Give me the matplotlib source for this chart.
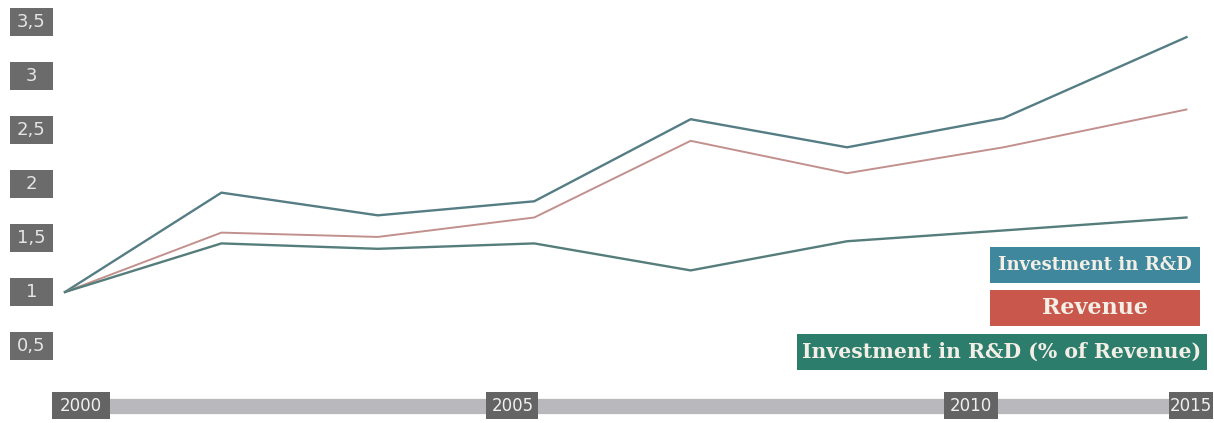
import matplotlib.pyplot as plt
from matplotlib.patches import Rectangle

# index values (2000 = 1)
periods = [0, 1, 2, 3, 4, 5, 6, 7.17]
rd_invest = [1.00, 1.92, 1.71, 1.84, 2.60, 2.34, 2.61, 3.36]
revenue = [1.00, 1.55, 1.51, 1.69, 2.40, 2.10, 2.34, 2.69]
rd_share = [1.00, 1.45, 1.40, 1.45, 1.20, 1.47, 1.57, 1.69]

y_ticks = [0.5, 1, 1.5, 2, 2.5, 3, 3.5]
year_labels = ["2000", "2005", "2010", "2015"]
year_pos = [0.10, 2.86, 5.79, 7.20]

legend_labels = ["Investment in R&D", "Revenue", "Investment in R&D (% of Revenue)"]
legend_colors = ["#3f879c", "#c9574c", "#2c7d6c"]

W, H = 1214, 423
fig = plt.figure(figsize=(W / 100, H / 100), dpi=100)
ax = fig.add_axes([0, 0, 1, 1])
ax.axis("off")
ax.set_xlim(-0.4156, 7.346)
ax.set_ylim(-0.213, 3.704)

ax.plot(periods, rd_invest, color="#557d84", lw=1.7, solid_joinstyle="miter")
ax.plot(periods, revenue, color="#c2908d", lw=1.4, solid_joinstyle="miter")
ax.plot(periods, rd_share, color="#557d7b", lw=1.7, solid_joinstyle="miter")

# pixel size -> data units
px_x = (7.346 + 0.4156) / W
px_y = (3.704 + 0.213) / H

# y labels in fixed-size grey boxes
yt = ax.get_yaxis_transform()
for v in y_ticks:
    ax.add_patch(Rectangle((10 / W, v - 14 * px_y), 43 / W, 28 * px_y,
                           transform=yt, fc="#6b6b6b", ec="none"))
    ax.text(31.5 / W, v, ("%g" % v).replace(".", ","), transform=yt,
            ha="center", va="center", fontsize=13, color="#e6e6e6")

# x axis bar with year tags
xt = ax.get_xaxis_transform()
bar_y = 1 - 405.5 / H
ax.plot([year_pos[0], year_pos[-1]], [bar_y] * 2, color="#b9b9bd", lw=11,
        solid_capstyle="butt", transform=xt, zorder=1)
tag_w = [58, 52, 54, 44]
for pos, lab, w in zip(year_pos, year_labels, tag_w):
    ax.add_patch(Rectangle((pos - w / 2 * px_x, bar_y - 13.5 / H), w * px_x, 27 / H,
                           transform=xt, fc="#646464", ec="none", zorder=2))
    ax.text(pos, bar_y, lab, transform=xt, ha="center", va="center",
            fontsize=12, color="#f0f0f0", zorder=3)

# legend tags
boxes = [(990, 247, 210, 36), (990, 290, 210, 36), (797, 334, 410, 36)]
sizes = [13.1, 16, 14.7]
for (x0, y0, w, h), lab, col, fs in zip(boxes, legend_labels, legend_colors, sizes):
    ax.add_patch(Rectangle((x0 / W, 1 - (y0 + h) / H), w / W, h / H,
                           transform=ax.transAxes, fc=col, ec="none"))
    ax.text((x0 + w / 2) / W, 1 - (y0 + h / 2) / H, lab, transform=ax.transAxes,
            ha="center", va="center", fontsize=fs, fontweight="bold",
            family="DejaVu Serif", color="#f3efe6")

fig.savefig("out.png", dpi=100)
